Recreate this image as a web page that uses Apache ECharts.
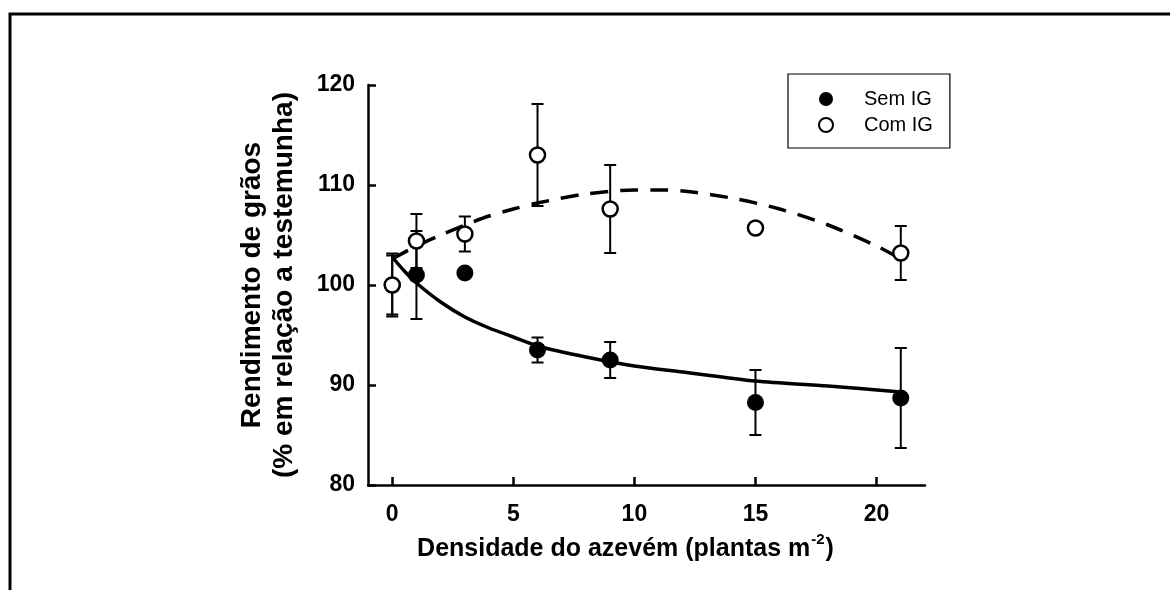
<!DOCTYPE html>
<html>
<head>
<meta charset="utf-8">
<script src="https://cdn.jsdelivr.net/npm/echarts@6/dist/echarts.min.js"></script>
<style>
  html, body { margin: 0; padding: 0; background: #fff; }
  #chart { width: 1170px; height: 590px; }
</style>
</head>
<body>
<div id="chart"></div>
<script>
const densities = [0, 1, 3, 6, 9, 15, 21];
const semIG = [100, 101.0, 101.2, 93.5, 92.5, 88.25, 88.7];
const semIGErr = [2.95, 4.4, 0, 1.25, 1.8, 3.25, 5.0];
const comIG = [100, 104.4, 105.1, 113.0, 107.6, 105.7, 103.2];
const comIGErr = [3.15, 2.7, 1.75, 5.1, 4.4, 0, 2.7];

// Fitted curves
const semFitX = [0, 0.5, 1, 2, 3, 4, 5, 6, 8, 10, 12, 15, 18, 21];
const semFitY = [102.8, 101.4, 100.2, 98.3, 96.8, 95.7, 94.8, 93.9, 92.8, 91.9, 91.3, 90.4, 89.9, 89.3];
const comFitX = [0, 1, 2, 3, 4, 5, 6, 8, 10, 11, 12, 14, 16, 18, 20, 21];
const comFitY = [102.6, 103.9, 105.0, 106.0, 106.9, 107.6, 108.2, 109.1, 109.5, 109.5, 109.4, 108.7, 107.6, 106.0, 103.9, 102.6];

const xTicks = [0, 5, 10, 15, 20];
const seriesNames = ['Sem IG', 'Com IG'];

const FONT = "'Liberation Sans', Arial, Helvetica, sans-serif";

function pairs(xs, ys) { return xs.map((x, i) => [x, ys[i]]); }
function triples(xs, ys, es) { return xs.map((x, i) => [x, ys[i], es[i]]); }

function errorBar(params, api) {
  const x = api.value(0), y = api.value(1), e = api.value(2);
  if (!e) return null;
  const top = api.coord([x, y + e]);
  const bot = api.coord([x, y - e]);
  const hw = 6;
  const st = { stroke: '#000', lineWidth: 2 };
  return {
    type: 'group',
    children: [
      { type: 'line', shape: { x1: top[0], y1: top[1], x2: bot[0], y2: bot[1] }, style: st },
      { type: 'line', shape: { x1: top[0] - hw, y1: top[1], x2: top[0] + hw, y2: top[1] }, style: st },
      { type: 'line', shape: { x1: bot[0] - hw, y1: bot[1], x2: bot[0] + hw, y2: bot[1] }, style: st }
    ]
  };
}

const chart = echarts.init(document.getElementById('chart'), null, { renderer: 'canvas' });
chart.setOption({
  animation: false,
  backgroundColor: '#fff',
  textStyle: { fontFamily: FONT },
  grid: { left: 368, right: 245, top: 85, bottom: 105 },
  graphic: [{
    type: 'polyline',
    shape: { points: [[10, 590], [10, 14], [1170, 14]] },
    style: { stroke: '#000', lineWidth: 3, fill: null }
  }],
  legend: {
    data: seriesNames,
    orient: 'vertical',
    left: 788, top: 74,
    borderColor: '#000', borderWidth: 1.2,
    padding: [15, 17, 13, 30],
    itemGap: 6,
    itemWidth: 14, itemHeight: 14,
    textStyle: { fontFamily: FONT, fontSize: 20, color: '#000', padding: [0, 0, 0, 26], lineHeight: 14 }
  },
  xAxis: {
    type: 'value',
    min: -1, max: 22,
    splitLine: { show: false },
    axisLine: { onZero: false, lineStyle: { color: '#000', width: 2.5 } },
    axisTick: { inside: true, length: 8, lineStyle: { color: '#000', width: 2.5 }, customValues: xTicks },
    axisLabel: { customValues: xTicks, margin: 18, color: '#000', fontFamily: FONT, fontSize: 23, fontWeight: 'bold' },
    name: '{a|Densidade do azevém (plantas m}{s|-2}{a|)}',
    nameLocation: 'middle',
    nameGap: 47,
    nameTextStyle: {
      padding: [0, 42, 0, 0],
      rich: {
        a: { fontFamily: FONT, fontSize: 25, fontWeight: 'bold', color: '#000', lineHeight: 30, verticalAlign: 'bottom' },
        s: { fontFamily: FONT, fontSize: 15, fontWeight: 'bold', color: '#000', lineHeight: 30, verticalAlign: 'top', padding: [0, 1, 14, 1] }
      }
    }
  },
  yAxis: {
    type: 'value',
    min: 80, max: 120, interval: 10,
    splitLine: { show: false },
    axisLine: { show: true, onZero: false, lineStyle: { color: '#000', width: 2.5 } },
    axisTick: { show: true, inside: true, length: 8, lineStyle: { color: '#000', width: 2.5 } },
    axisLabel: { margin: 13, color: '#000', fontFamily: FONT, fontSize: 23, fontWeight: 'bold' },
    name: 'Rendimento de grãos\n(% em relação a testemunha)',
    nameLocation: 'middle',
    nameGap: 68,
    nameRotate: 90,
    nameTextStyle: { fontFamily: FONT, fontSize: 28, fontWeight: 'bold', color: '#000', lineHeight: 32 }
  },
  series: [
    {
      name: 'fitSem', type: 'line', data: pairs(semFitX, semFitY), smooth: 0.3,
      showSymbol: false, silent: true, z: 1,
      lineStyle: { color: '#000', width: 3.5 }
    },
    {
      name: 'fitCom', type: 'line', data: pairs(comFitX, comFitY), smooth: 0.3,
      showSymbol: false, silent: true, z: 1,
      lineStyle: { color: '#000', width: 3.5, type: [18, 12] }
    },
    {
      name: 'errSem', type: 'custom', renderItem: errorBar, z: 2,
      data: triples(densities, semIG, semIGErr), encode: { x: 0, y: 1 }
    },
    {
      name: 'errCom', type: 'custom', renderItem: errorBar, z: 2,
      data: triples(densities, comIG, comIGErr), encode: { x: 0, y: 1 }
    },
    {
      name: seriesNames[0], type: 'scatter', data: pairs(densities, semIG), z: 3,
      symbol: 'circle', symbolSize: 17,
      itemStyle: { color: '#000', borderColor: '#000', borderWidth: 0, opacity: 1 }
    },
    {
      name: seriesNames[1], type: 'scatter', data: pairs(densities, comIG), z: 4,
      symbol: 'circle', symbolSize: 15,
      itemStyle: { color: '#fff', borderColor: '#000', borderWidth: 2.5, opacity: 1 }
    }
  ]
});
</script>
</body>
</html>
